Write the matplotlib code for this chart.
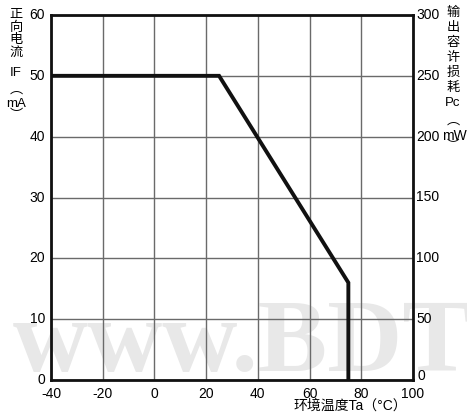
import numpy as np
import matplotlib.pyplot as plt

plt.rcParams['font.family'] = ['Liberation Sans', 'Noto Sans CJK SC', 'DejaVu Sans']

# derating curve: ambient temperature vs forward current
temp = [-40, 25, 75, 75]
current = [50, 50, 16, 0]

x_ticks = [-40, -20, 0, 20, 40, 60, 80, 100]
y_ticks = [0, 10, 20, 30, 40, 50, 60]
pc_ticks = [0, 50, 100, 150, 200, 250, 300]

W, H = 467, 418


def px(x, y):
    return x / W, 1 - y / H


fig = plt.figure(figsize=(W / 100, H / 100), dpi=100)
ax = fig.add_axes([51 / W, 38 / H, 362 / W, 365 / H])
ax.set_facecolor('none')
ax.set_zorder(2)

# watermark behind the grid
fig.text(*px(13, 371), 'www.BDTIC.com', fontsize=75, color='#e8e8e8',
         family='Liberation Serif', fontweight='bold', va='baseline', zorder=0)

ax.set_xlim(-40, 100)
ax.set_ylim(0, 60)
ax.set_xticks(x_ticks)
ax.set_yticks(y_ticks)
ax.grid(True, color='#6a6a6a', linewidth=1.0)
ax.set_axisbelow(True)
for s in ax.spines.values():
    s.set_linewidth(2.0)
    s.set_color('#111111')
ax.tick_params(length=0, labelsize=10, pad=5)
ax.set_yticklabels([])
ax.set_xticklabels([str(t) for t in x_ticks])

for t in y_ticks:
    ax.text(-6 / 362, t, str(t), transform=ax.get_yaxis_transform(),
            ha='right', va='center', fontsize=10)

ax2 = ax.twinx()
ax2.set_zorder(3)
ax2.set_ylim(0, 300)
ax2.set_yticks(pc_ticks)
ax2.set_yticklabels([])
ax2.tick_params(length=0)
for s in ax2.spines.values():
    s.set_visible(False)
for t in pc_ticks:
    if t == 0:
        ax2.text(1 + 4 / 362, t, '0', transform=ax2.get_yaxis_transform(),
                 ha='left', va='baseline', fontsize=10)
    else:
        ax2.text(1 + 3 / 362, t, str(t), transform=ax2.get_yaxis_transform(),
                 ha='left', va='center', fontsize=10)

ax.plot(temp, current, color='#111111', linewidth=2.8, solid_joinstyle='miter', zorder=3)

# left vertical label
left_lab = ['正', '向', '电', '流', 'IF', '︵', 'mA', '︶']
left_y = [15, 28, 40, 53, 73, 90, 104, 116]
for s, y in zip(left_lab, left_y):
    fig.text(*px(16, y), s, ha='center', va='center', fontsize=9.5, zorder=4)

# right vertical label
right_lab = ['输', '出', '容', '许', '损', '耗', 'Pc', '︵']
right_y = [13, 28, 43, 58, 73, 88, 103, 121]
for s, y in zip(right_lab, right_y):
    fig.text(*px(453, y), s, ha='center', va='center', fontsize=9.5, zorder=4)
fig.text(*px(442, 136), 'mW', ha='left', va='center', fontsize=10, zorder=4)
fig.text(*px(453, 146), '︶', ha='center', va='center', fontsize=9, zorder=4)

fig.text(*px(350, 406), '环境温度Ta（°C）', ha='center', va='center', fontsize=10, zorder=4)

fig.savefig('out.png', dpi=100)
